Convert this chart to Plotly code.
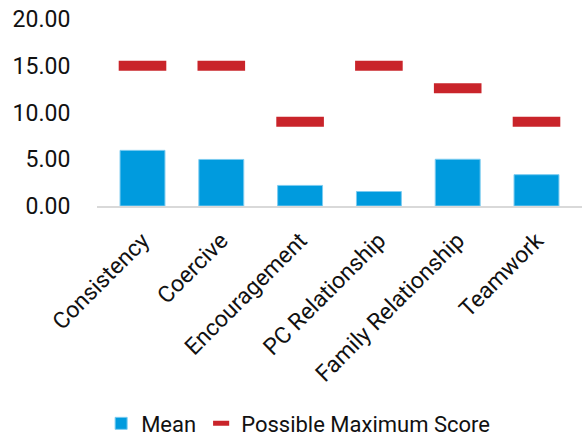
import plotly.graph_objects as go

categories = ["Consistency", "Coercive", "Encouragement", "PC Relationship",
              "Family Relationship", "Teamwork"]
mean_scores = [5.95, 4.98, 2.2, 1.55, 5.0, 3.35]
max_scores = [15, 15, 9, 15, 12.6, 9]
y_ticks = [0, 5, 10, 15, 20]

BLUE = "#009bde"
RED = "#c9242a"
FONT = "Roboto"
TEXT = "#111111"

fig = go.Figure()

fig.add_trace(go.Bar(
    x=categories, y=mean_scores, name="Mean",
    marker=dict(color=BLUE, line=dict(color="#7ccbf0", width=1)),
    width=0.57,
))

# maximum scores drawn as short horizontal dashes over each category
fig.add_trace(go.Scatter(
    x=categories, y=max_scores, name="Possible Maximum Score",
    mode="markers", legendgroup="max", showlegend=False,
    marker=dict(symbol="line-ew-open", size=34, color=RED,
                line=dict(color=RED, width=10)),
))
# legend entry for the dashes
fig.add_trace(go.Scatter(
    x=[None], y=[None], name="Possible Maximum Score",
    mode="markers", legendgroup="max",
    marker=dict(symbol="line-ew-open", size=11.5, color=RED,
                line=dict(color=RED, width=5)),
))

fig.update_layout(
    width=588, height=438,
    margin=dict(l=97, r=6, t=19, b=232, autoexpand=False),
    paper_bgcolor="white", plot_bgcolor="white",
    font=dict(family=FONT, size=23, color=TEXT),
    showlegend=True,
    legend=dict(orientation="h", x=0.172, xref="container", xanchor="left",
                y=0.033, yref="container", yanchor="middle",
                font=dict(size=22), traceorder="normal", itemwidth=30),
)

fig.update_yaxes(
    range=[0, 20], tickvals=y_ticks, tickformat=".2f",
    showgrid=False, zeroline=False, showline=False,
    ticks="outside", ticklen=21, tickcolor="rgba(0,0,0,0)",
    automargin=False,
)
fig.update_xaxes(
    showgrid=False, showline=True, linecolor="#d9d9d9", linewidth=2,
    tickangle=-45, ticks="", ticklabelstandoff=10, automargin=False,
)

fig.write_html("out.html")
